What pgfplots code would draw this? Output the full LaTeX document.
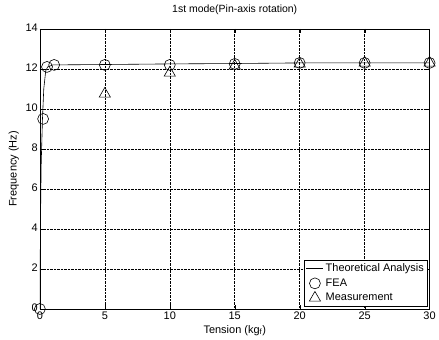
\documentclass[border=0pt]{standalone}
\usepackage{fontspec}
\setmainfont{Liberation Sans}
\usepackage{pgfplots}
\pgfplotsset{compat=1.18}
\begin{document}
\begin{tikzpicture}
\begin{axis}[
  scale only axis,
  width=391pt, height=281pt,
  xmin=0, xmax=30, ymin=0, ymax=14,
  xtick={0,5,10,15,20,25,30},
  ytick={0,2,4,6,8,10,12,14},
  grid=major,
  major grid style={black, densely dotted, line width=0.5pt},
  axis line style={black, line width=0.6pt},
  tick style={black},
  tick align=inside,
  /pgf/number format/assume math mode=true,
  tick label style={font=\fontsize{11}{12}\selectfont},
  label style={font=\fontsize{11}{12}\selectfont},
  title style={font=\fontsize{10.5}{12}\selectfont, yshift=5pt},
  title={1st mode(Pin-axis rotation)},
  xlabel={Tension (kg\textsubscript{f})},
  ylabel={Frequency (Hz)},
  xlabel style={yshift=1.5pt},
  ylabel style={yshift=0pt},
  xticklabel style={yshift=0.5pt},
  yticklabel style={xshift=1.5pt, yshift=1pt},
  legend style={at={(0.995,0.01)}, anchor=south east, draw=black, line width=0.6pt,
    font=\fontsize{11}{12}\selectfont, inner sep=1.5pt, row sep=1.5pt,
    cells={anchor=west}},
  legend image code/.code={%
    \draw[mark repeat=2,mark phase=2,#1] plot coordinates {(0cm,0cm) (0.3cm,0cm) (0.6cm,0cm)};},
]
\addplot[black, line width=0.6pt, no marks] coordinates {
  (0,0) (0.05,4.5) (0.1,7.2) (0.2,9.5) (0.3,11.0) (0.45,11.9) (0.6,12.1) (1,12.2) (5,12.22) (10,12.25) (15,12.27) (20,12.3) (25,12.3) (30,12.3)
};
\addlegendentry{Theoretical Analysis}
\addplot[only marks, mark=o, mark size=5.5pt, black, line width=0.6pt] coordinates {
  (0,0) (0.25,9.5) (0.55,12.1) (1.1,12.2) (5,12.2) (10,12.2) (15,12.25) (20,12.3) (25,12.3) (30,12.3)
};
\addlegendentry{FEA}
\addplot[only marks, mark=triangle, mark size=6.5pt, black, line width=0.6pt] coordinates {
  (5,10.75) (10,11.8) (15,12.15) (20,12.25) (25,12.3) (30,12.3)
};
\addlegendentry{Measurement}
\end{axis}
\path ([xshift=-40pt,yshift=-31pt]current axis.south west) rectangle ([xshift=8pt,yshift=29pt]current axis.north east);
\end{tikzpicture}
\end{document}
